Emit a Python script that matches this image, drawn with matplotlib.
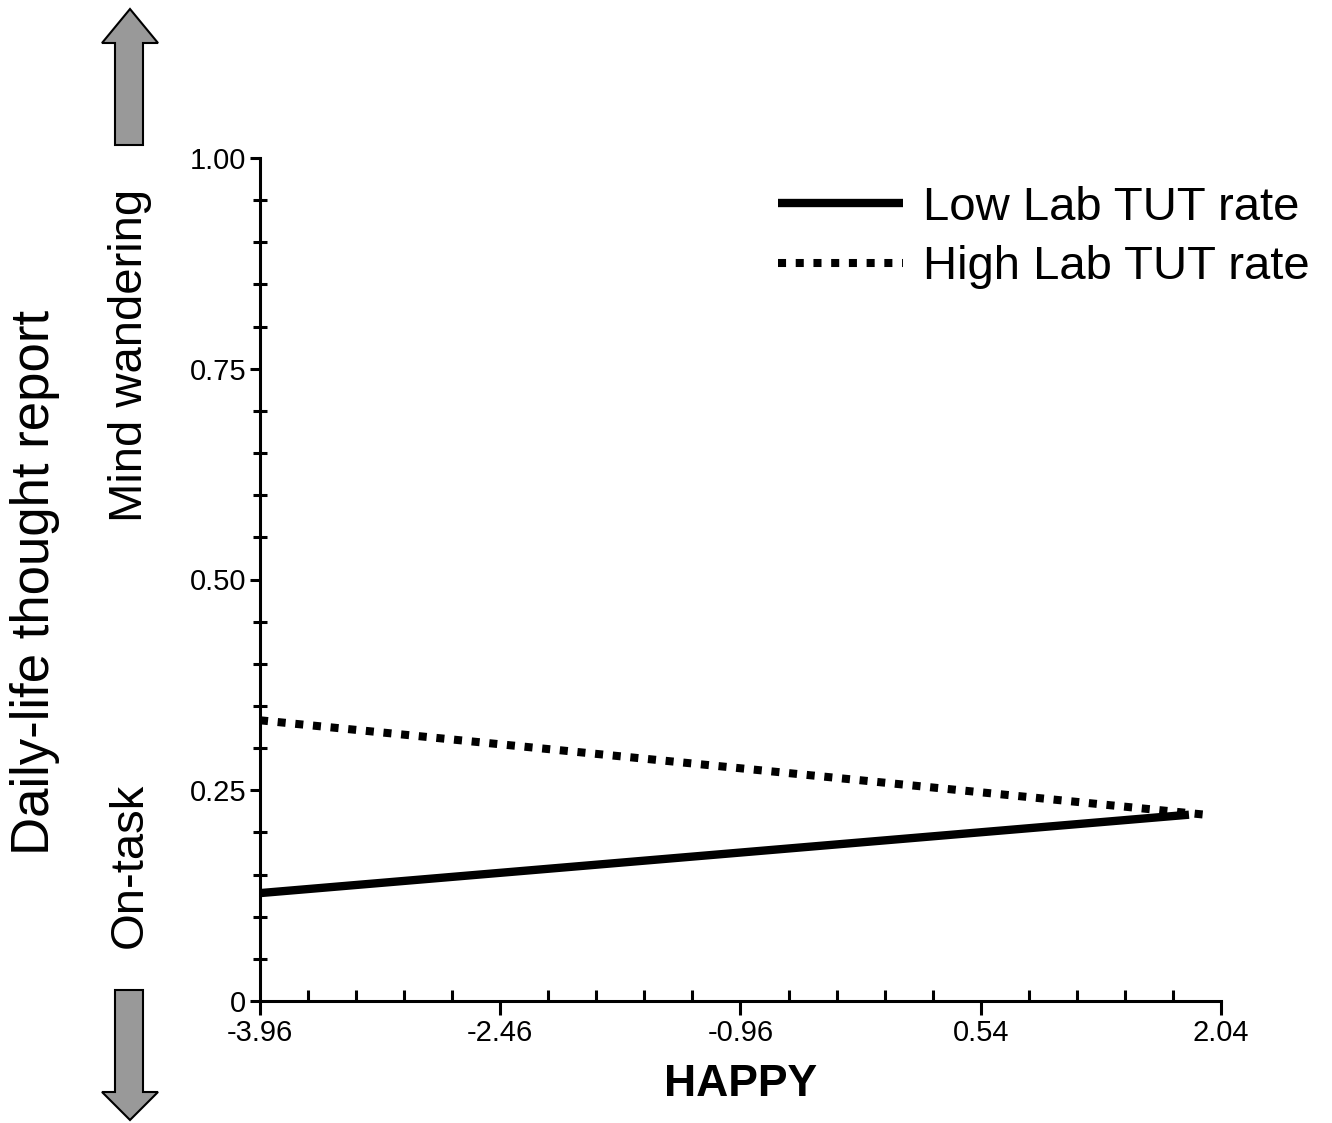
import matplotlib
matplotlib.use('Agg')
import matplotlib.pyplot as plt
from matplotlib.patches import Polygon
from matplotlib.ticker import AutoMinorLocator

plt.rcParams['font.family'] = ['Liberation Sans', 'DejaVu Sans']

# ---- data ----
happy_ticks = [-3.96, -2.46, -0.96, 0.54, 2.04]
y_ticks = [0, 0.25, 0.50, 0.75, 1.00]
y_tick_labels = ['0', '0.25', '0.50', '0.75', '1.00']

low_x = [-3.96, 1.84]
low_y = [0.128, 0.221]
high_x = [-3.96, 1.94]
high_y = [0.333, 0.221]

W, H = 1332, 1123


def px_to_fig(pts):
    """pixel coords (top-left origin) -> figure fraction"""
    return [(x / W, 1 - y / H) for x, y in pts]


fig = plt.figure(figsize=(W / 100, H / 100), dpi=100)
ax = fig.add_axes([260 / W, 122 / H, 961 / W, 843 / H])

ax.plot(low_x, low_y, color='black', lw=6.0, solid_capstyle='butt',
        label='Low Lab TUT rate')
ax.plot(high_x, high_y, color='black', lw=5.8, linestyle=(0, (1.0, 1.2)),
        dash_capstyle='butt', label='High Lab TUT rate')

ax.set_xlim(-3.96, 2.04)
ax.set_ylim(0, 1.0)
ax.set_xticks(happy_ticks)
ax.set_xticklabels([f'{v:.2f}' for v in happy_ticks])
ax.xaxis.set_minor_locator(AutoMinorLocator(5))
ax.set_yticks(y_ticks)
ax.set_yticklabels(y_tick_labels)
ax.yaxis.set_minor_locator(AutoMinorLocator(5))

for s in ['top', 'right']:
    ax.spines[s].set_visible(False)
for s in ['left', 'bottom']:
    ax.spines[s].set_linewidth(2.2)

ax.tick_params(axis='both', which='major', labelsize=21, width=2.2,
               direction='out', length=7, pad=3)
ax.tick_params(axis='x', which='major', length=10)
ax.tick_params(axis='y', which='minor', direction='inout', length=10, width=2.2)
ax.tick_params(axis='x', which='minor', direction='in', length=8, width=2.2)

ax.set_xlabel('HAPPY', fontsize=32, fontweight='bold', labelpad=12)

leg = ax.legend(loc='upper left', bbox_to_anchor=(778 / W, 1 - 186 / H),
                bbox_transform=fig.transFigure, frameon=False, fontsize=34,
                handlelength=2.65, handletextpad=0.42, labelspacing=0.32,
                borderpad=0, borderaxespad=0)

# side labels
fig.text(35 / W, 1 - 582 / H, 'Daily-life thought report', rotation=90,
         fontsize=38, ha='center', va='center')
fig.text(130 / W, 1 - 355 / H, 'Mind wandering', rotation=90,
         fontsize=34, ha='center', va='center')
fig.text(130 / W, 1 - 865 / H, 'On-task', rotation=90,
         fontsize=34, ha='center', va='center')

# arrows
up = [(130, 9), (158, 43), (143, 43), (143, 145), (115, 145), (115, 43), (102, 43)]
down = [(115, 990), (143, 990), (143, 1092), (158, 1092), (130, 1120),
        (102, 1092), (115, 1092)]
for shape in [up, down]:
    fig.patches.append(Polygon(px_to_fig(shape), closed=True,
                               facecolor='#999999', edgecolor='black', lw=1.5,
                               transform=fig.transFigure, figure=fig))

fig.savefig('out.png', dpi=100)
